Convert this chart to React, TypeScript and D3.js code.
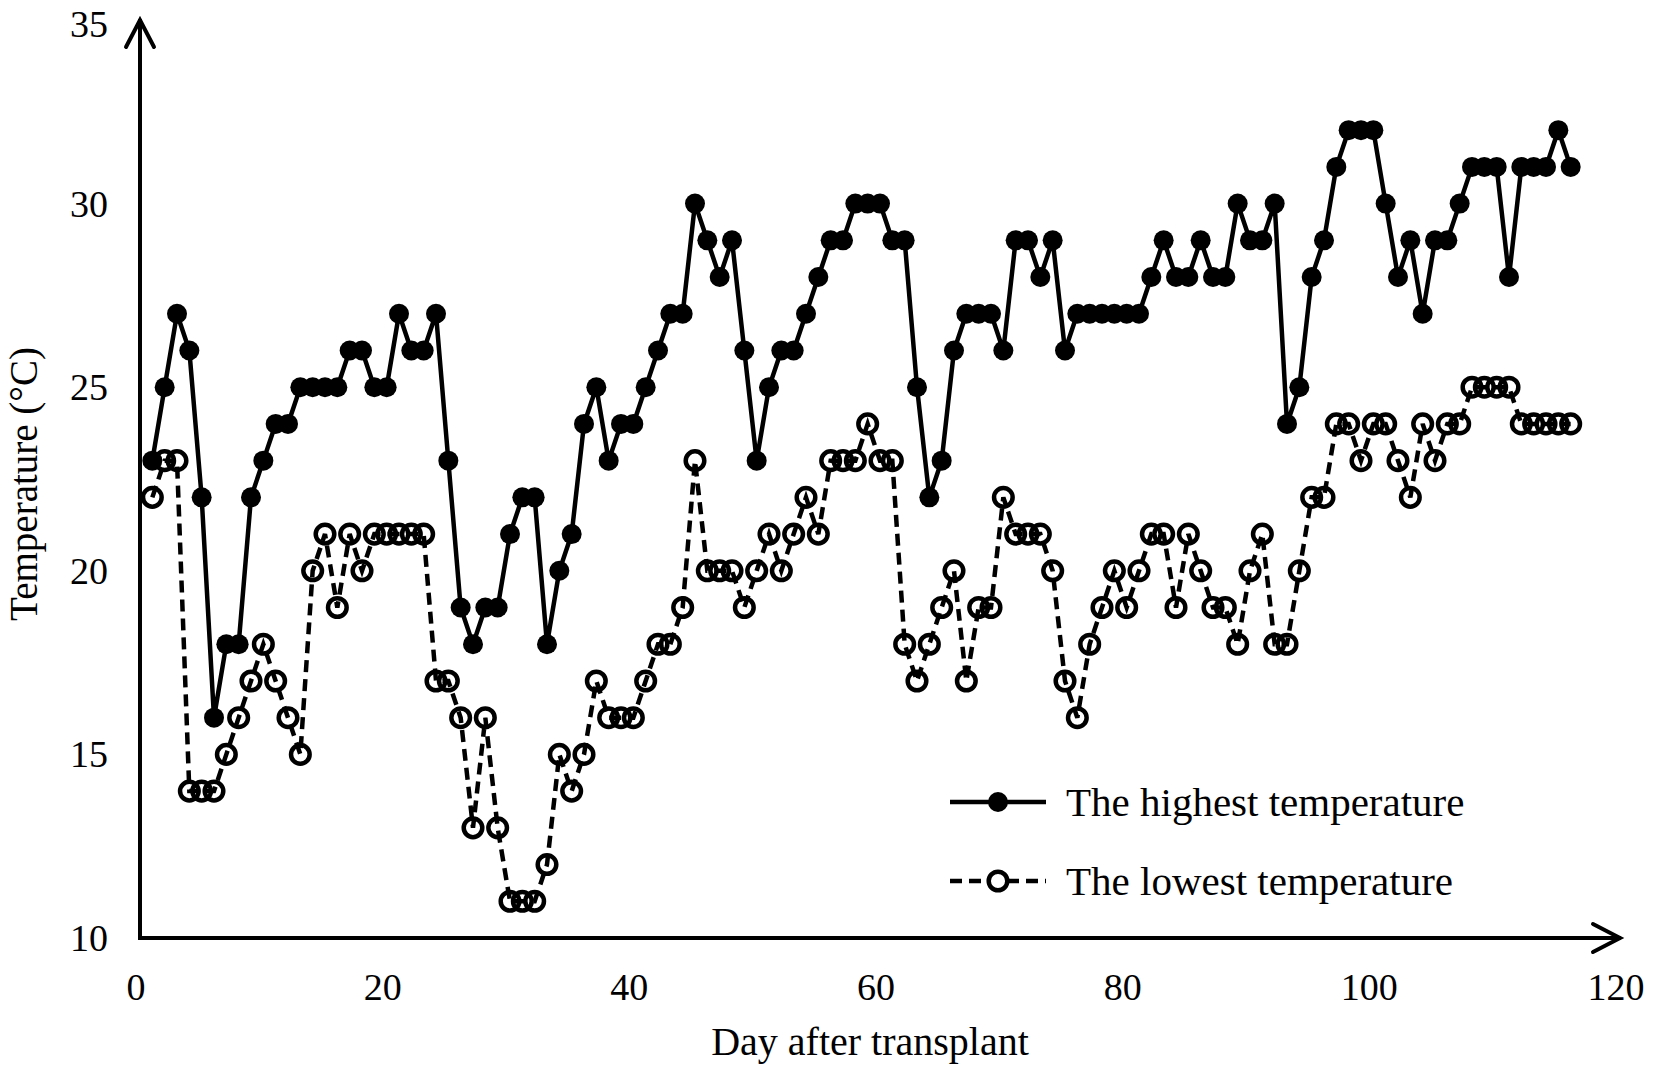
import React from "react";
import * as d3 from "d3";

const days: number[] = Array.from({ length: 116 }, (_, i) => i + 1);

const highTemp: number[] = [
  23, 25, 27, 26, 22, 16, 18, 18, 22, 23,
  24, 24, 25, 25, 25, 25, 26, 26, 25, 25,
  27, 26, 26, 27, 23, 19, 18, 19, 19, 21,
  22, 22, 18, 20, 21, 24, 25, 23, 24, 24,
  25, 26, 27, 27, 30, 29, 28, 29, 26, 23,
  25, 26, 26, 27, 28, 29, 29, 30, 30, 30,
  29, 29, 25, 22, 23, 26, 27, 27, 27, 26,
  29, 29, 28, 29, 26, 27, 27, 27, 27, 27,
  27, 28, 29, 28, 28, 29, 28, 28, 30, 29,
  29, 30, 24, 25, 28, 29, 31, 32, 32, 32,
  30, 28, 29, 27, 29, 29, 30, 31, 31, 31,
  28, 31, 31, 31, 32, 31,
];

const lowTemp: number[] = [
  22, 23, 23, 14, 14, 14, 15, 16, 17, 18,
  17, 16, 15, 20, 21, 19, 21, 20, 21, 21,
  21, 21, 21, 17, 17, 16, 13, 16, 13, 11,
  11, 11, 12, 15, 14, 15, 17, 16, 16, 16,
  17, 18, 18, 19, 23, 20, 20, 20, 19, 20,
  21, 20, 21, 22, 21, 23, 23, 23, 24, 23,
  23, 18, 17, 18, 19, 20, 17, 19, 19, 22,
  21, 21, 21, 20, 17, 16, 18, 19, 20, 19,
  20, 21, 21, 19, 21, 20, 19, 19, 18, 20,
  21, 18, 18, 20, 22, 22, 24, 24, 23, 24,
  24, 23, 22, 24, 23, 24, 24, 25, 25, 25,
  25, 24, 24, 24, 24, 24,
];

const xTicks: number[] = [0, 20, 40, 60, 80, 100, 120];
const yTicks: number[] = [10, 15, 20, 25, 30, 35];

const seriesNames: string[] = ["The highest temperature", "The lowest temperature"];
const xTitle = "Day after transplant";
const yTitle = "Temperature (°C)";

const W = 1654;
const H = 1071;
const FONT = "'Liberation Serif', 'Times New Roman', serif";

export default function App() {
  const x = d3.scaleLinear().domain([0, 120]).range([140, 1620]);
  const y = d3.scaleLinear().domain([10, 35]).range([938, 20]);

  const line = d3
    .line<number>()
    .x((_, i) => x(days[i]))
    .y((v) => y(v));

  const highPath = line(highTemp) || "";
  const lowPath = line(lowTemp) || "";

  const x0 = x(0);
  const y0 = y(10);
  const xEnd = x(120);
  const yEnd = y(35);

  const legX1 = 950;
  const legX2 = 1046;
  const legY1 = 802;
  const legY2 = 881;

  return (
    <svg
      width={W}
      height={H}
      viewBox={`0 0 ${W} ${H}`}
      style={{ position: "absolute", left: 0, top: 0, background: "#fff" }}
    >
      <rect x={0} y={0} width={W} height={H} fill="#fff" />
      {/* series */}
      <path d={lowPath} fill="none" stroke="#000" strokeWidth={4.5} strokeDasharray="12 7" />
      {lowTemp.map((v, i) => (
        <circle key={"l" + i} cx={x(days[i])} cy={y(v)} r={9.3} fill="none" stroke="#000" strokeWidth={4.5} />
      ))}
      <path d={highPath} fill="none" stroke="#000" strokeWidth={4.5} />
      {highTemp.map((v, i) => (
        <circle key={"h" + i} cx={x(days[i])} cy={y(v)} r={10} fill="#000" />
      ))}

      {/* axes */}
      <g stroke="#000" strokeWidth={4} fill="none" strokeLinecap="square">
        <line x1={x0} y1={y0} x2={x0} y2={yEnd + 1} />
        <line x1={x0} y1={y0} x2={xEnd - 1} y2={y0} />
      </g>
      <g stroke="#000" strokeWidth={4} fill="none" strokeLinecap="round" strokeLinejoin="miter">
        <polyline points={`${x0 - 14},${yEnd + 27} ${x0},${yEnd} ${x0 + 14},${yEnd + 27}`} />
        <polyline points={`${xEnd - 27},${y0 - 14} ${xEnd},${y0} ${xEnd - 27},${y0 + 14}`} />
      </g>

      {/* tick labels */}
      {yTicks.map((t) => (
        <text
          key={"yt" + t}
          x={108}
          y={y(t) + (t === 35 ? 4 : 0)}
          textAnchor="end"
          dominantBaseline="central"
          fontFamily={FONT}
          fontSize={38}
          fill="#000"
        >
          {t}
        </text>
      ))}
      {xTicks.map((t) => (
        <text
          key={"xt" + t}
          x={x(t) - 4}
          y={1000}
          textAnchor="middle"
          fontFamily={FONT}
          fontSize={38}
          fill="#000"
        >
          {t}
        </text>
      ))}

      {/* axis titles */}
      <text x={870} y={1055} textAnchor="middle" fontFamily={FONT} fontSize={40} fill="#000">
        {xTitle}
      </text>
      <text
        transform={`translate(37,484) rotate(-90)`}
        textAnchor="middle"
        fontFamily={FONT}
        fontSize={39}
        fill="#000"
      >
        {yTitle}
      </text>

      {/* legend */}
      <line x1={legX1} y1={legY1} x2={legX2} y2={legY1} stroke="#000" strokeWidth={4.5} />
      <circle cx={(legX1 + legX2) / 2} cy={legY1} r={10} fill="#000" />
      <text x={1066} y={legY1} dominantBaseline="central" fontFamily={FONT} fontSize={41} fill="#000">
        {seriesNames[0]}
      </text>
      <line x1={legX1} y1={legY2} x2={legX2} y2={legY2} stroke="#000" strokeWidth={4.5} strokeDasharray="12 7" />
      <circle cx={(legX1 + legX2) / 2} cy={legY2} r={9.3} fill="#fff" stroke="#000" strokeWidth={4.5} />
      <text x={1066} y={legY2} dominantBaseline="central" fontFamily={FONT} fontSize={41} fill="#000">
        {seriesNames[1]}
      </text>
    </svg>
  );
}
